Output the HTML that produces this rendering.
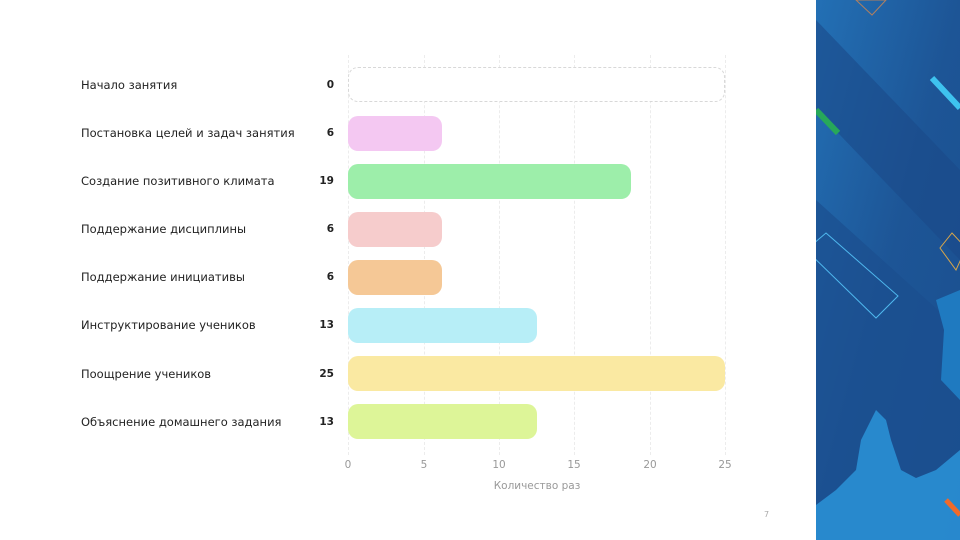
<!DOCTYPE html>
<html><head><meta charset="utf-8"><style>
body{margin:0;width:960px;height:540px;overflow:hidden;background:#fff;font-family:"DejaVu Sans","Liberation Sans",sans-serif;position:relative}
.l{position:absolute;left:81px;font-size:11.5px;color:#222;line-height:14px}
.v{position:absolute;right:626px;font-size:10.5px;font-weight:bold;color:#222;line-height:14px}
.b{position:absolute;left:348px;height:35px;border-radius:10px}
.g{position:absolute;top:55px;height:400px;border-left:1px dashed #ececec}
.t{position:absolute;top:459px;font-size:10.5px;color:#999;width:30px;text-align:center;margin-left:-15px}
</style></head><body>
<div class="g" style="left:348px"></div><div class="g" style="left:424px"></div><div class="g" style="left:499px"></div><div class="g" style="left:574px"></div><div class="g" style="left:650px"></div><div class="g" style="left:725px"></div>
<div class="b" style="top:67px;width:375px;height:33px;border:1px dashed #d8d8d8;background:#fff"></div>
<div class="b" style="top:116px;width:94px;background:#f4c8f2"></div>
<div class="b" style="top:164px;width:283px;background:#9deeaa"></div>
<div class="b" style="top:212px;width:94px;background:#f6cccc"></div>
<div class="b" style="top:260px;width:94px;background:#f5c896"></div>
<div class="b" style="top:308px;width:189px;background:#b7eef7"></div>
<div class="b" style="top:356px;width:377px;background:#fae9a2"></div>
<div class="b" style="top:404px;width:189px;background:#ddf598"></div>
<div class="l" style="top:78px">Начало занятия</div><div class="v" style="top:78px">0</div>
<div class="l" style="top:126px">Постановка целей и задач занятия</div><div class="v" style="top:126px">6</div>
<div class="l" style="top:174px">Создание позитивного климата</div><div class="v" style="top:174px">19</div>
<div class="l" style="top:222px">Поддержание дисциплины</div><div class="v" style="top:222px">6</div>
<div class="l" style="top:270px">Поддержание инициативы</div><div class="v" style="top:270px">6</div>
<div class="l" style="top:318px">Инструктирование учеников</div><div class="v" style="top:318px">13</div>
<div class="l" style="top:367px">Поощрение учеников</div><div class="v" style="top:367px">25</div>
<div class="l" style="top:415px">Объяснение домашнего задания</div><div class="v" style="top:415px">13</div>
<div class="t" style="left:348px">0</div><div class="t" style="left:424px">5</div><div class="t" style="left:499px">10</div><div class="t" style="left:574px">15</div><div class="t" style="left:650px">20</div><div class="t" style="left:725px">25</div>
<div style="position:absolute;top:480px;left:467px;width:140px;text-align:center;font-size:10.5px;color:#999">Количество раз</div>
<div style="position:absolute;top:510px;left:764px;font-size:8px;color:#aaa">7</div>
<svg style="position:absolute;left:816px;top:0" width="144" height="540">
<defs><linearGradient id="bg" x1="0" y1="0" x2="1" y2="1"><stop offset="0" stop-color="#2370b5"/><stop offset="0.5" stop-color="#1d5596"/><stop offset="1" stop-color="#1a4f8f"/></linearGradient></defs>
<rect width="144" height="540" fill="url(#bg)"/>
<polygon points="0,20 144,170 144,260 0,110" fill="#1a4a88" opacity="0.6"/>
<polygon points="0,200 144,330 144,540 0,540" fill="#1b4f8e" opacity="0.7"/>
<line x1="116" y1="78" x2="144" y2="108" stroke="#3ec3ef" stroke-width="6"/>
<line x1="0" y1="110" x2="22" y2="133" stroke="#27a85a" stroke-width="6"/>
<polygon points="10,233 82,296 60,318 -10,250" fill="none" stroke="#4fb8ee" stroke-width="1"/>
<polygon points="136,233 150,248 140,270 124,248" fill="none" stroke="#d8a64a" stroke-width="1"/>
<polygon points="40,0 70,0 56,15" fill="none" stroke="#b08060" stroke-width="1"/>
<path d="M60,410 L70,420 L75,440 L85,470 L100,478 L120,470 L144,450 L144,540 L0,540 L0,505 L20,490 L40,470 L45,440 Z" fill="#2a8fd4" opacity="0.9"/>
<path d="M120,300 L144,290 L144,400 L125,380 L128,330 Z" fill="#1f7ac0"/>
<line x1="130" y1="500" x2="144" y2="515" stroke="#f06a2a" stroke-width="5"/>
</svg>
</body></html>
